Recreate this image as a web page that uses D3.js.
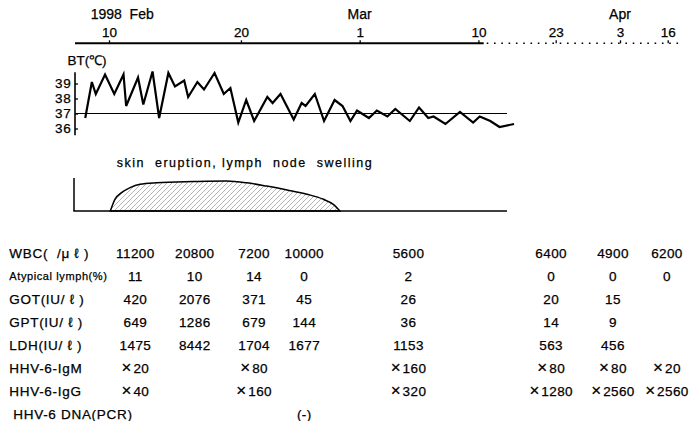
<!DOCTYPE html>
<html>
<head>
<meta charset="utf-8">
<script src="https://cdn.jsdelivr.net/npm/d3@7"></script>
<style>
  body { margin: 0; background: #fff; }
  svg { display: block; font-family: "Liberation Sans", Arial, sans-serif; }
  svg text { stroke: #000; stroke-width: 0.25px; }
</style>
</head>
<body>
<div id="grafico"></div>
<script>
// Days counted from Feb 0, 1998 (Feb 10 = 10, Mar 1 = 29, Mar 10 = 38, Apr 16 = 75)
const axisTickDays = [10, 20, 29, 38, 51, 62, 75];
const axisTickLabels = ['10', '20', '1', '10', '23', '3', '16'];
const monthLabels = ['1998  Feb', 'Mar', 'Apr'];
const monthDays = [11, 29, 62];

// body temperature (two readings a day)
const btDays = [8.2, 8.7, 9.0, 9.7, 10.4, 11.1, 11.3, 12.2, 12.6, 13.3, 13.8, 14.5, 15.0, 15.7, 16.0,
  16.7, 17.2, 18.0, 18.7, 19.2, 19.8, 20.4, 21.0, 22.0, 22.4, 23.0, 24.0, 24.6, 24.9, 25.6, 26.3,
  27.1, 27.7, 28.3, 28.8, 29.7, 30.3, 31.1, 31.7, 32.8, 33.5, 34.2, 34.6, 35.5, 36.6, 37.6, 38.1,
  38.9, 39.6, 40.7];
const btValues = [36.7, 39.1, 38.3, 39.6, 38.3, 39.6, 37.5, 39.4, 37.6, 39.8, 36.7, 39.7, 38.8, 39.2, 38.1,
  39.1, 38.6, 39.7, 38.3, 38.7, 36.4, 37.9, 36.5, 38.1, 37.7, 38.3, 36.6, 37.7, 37.5, 38.3, 36.5,
  37.9, 37.5, 36.5, 37.2, 36.7, 37.2, 36.8, 37.3, 36.5, 37.4, 36.7, 36.8, 36.3, 37.1, 36.4, 36.8,
  36.5, 36.1, 36.3];
const btTicks = [36, 37, 38, 39];
const btNormal = 37;

// skin eruption / lymph node swelling intensity (relative)
const eruptionDays = [10.1, 10.45, 10.95, 11.6, 12.35, 13.6, 16.4, 18.9, 20.45, 21.95, 23.5, 25.0, 26.25, 27.0, 27.5];
const eruptionLevel = [0, 0.39, 0.61, 0.78, 0.89, 0.94, 0.98, 1.0, 0.94, 0.83, 0.70, 0.56, 0.39, 0.22, 0];
const eruptionLabel = 'skin  eruption, lymph  node  swelling';
const eruptionLabelDay = 20.25;

// laboratory table
const labDays = [12, 16.5, 21, 24.8, 32.7, 49.8, 60.8, 74.8];
const labRows = ['WBC(  /μ ℓ )', 'Atypical lymph(%)', 'GOT(IU/ ℓ )', 'GPT(IU/ ℓ )', 'LDH(IU/ ℓ )',
  'HHV-6-IgM', 'HHV-6-IgG', 'HHV-6 DNA(PCR)'];
const wbc = [11200, 20800, 7200, 10000, 5600, 6400, 4900, 6200];
const atypical = [11, 10, 14, 0, 2, 0, 0, 0];
const got = [420, 2076, 371, 45, 26, 20, 15, null];
const gpt = [649, 1286, 679, 144, 36, 14, 9, null];
const ldh = [1475, 8442, 1704, 1677, 1153, 563, 456, null];
const igm = [20, null, 80, null, 160, 80, 80, 20];
const igg = [40, null, 160, null, 320, 1280, 2560, 2560];
const pcr = [null, null, null, '(-)', null, null, null, null];

function desenhar() {
  const largura = 692;
  const altura = 421;

  const svg = d3.select('#grafico').append('svg')
    .attr('width', largura).attr('height', altura);

  const defs = svg.append('defs');
  defs.append('pattern')
    .attr('id', 'hatch')
    .attr('patternUnits', 'userSpaceOnUse')
    .attr('width', 5).attr('height', 5)
    .append('path')
    .attr('d', 'M-1,1 l2,-2 M0,5 l5,-5 M4,6 l2,-2')
    .attr('stroke', '#666').attr('stroke-width', 0.5);

  // broken time scale: linear up to mid-March, compressed afterwards
  const x = d3.scaleLinear()
    .domain([10, 41, 51, 62, 75])
    .range([109, 518, 555.7, 620, 667.7]);

  // top date axis
  const axisY = 43.3;
  const eixo = svg.append('g').attr('transform', `translate(0,${axisY})`)
    .call(d3.axisTop(x).tickValues(axisTickDays)
      .tickFormat((d, i) => axisTickLabels[i]).tickSize(3).tickPadding(3));
  eixo.select('.domain').remove();
  eixo.selectAll('line').attr('stroke-width', 1.3);
  eixo.selectAll('text').attr('font-size', 13.5).attr('font-family', null).attr('fill', '#000');
  eixo.append('line').attr('x1', 75).attr('x2', x(38.4))
    .attr('stroke', '#000').attr('stroke-width', 2);
  eixo.append('line').attr('x1', x(38.4) + 3).attr('x2', 682)
    .attr('stroke', '#000').attr('stroke-width', 1.6)
    .attr('stroke-dasharray', '1.6,5.7');

  svg.append('g').selectAll('text').data(monthLabels).enter().append('text')
    .attr('x', (d, i) => x(monthDays[i]))
    .attr('y', 18.5)
    .attr('text-anchor', 'middle')
    .attr('font-size', 14)
    .style('white-space', 'pre')
    .text((d) => d);

  // body temperature
  const y = d3.scaleLinear().domain([36, 39]).range([128.5, 83.5]);
  const plotLeft = 75;
  const plotRight = 507;

  svg.append('text').attr('x', 87).attr('y', 65)
    .attr('text-anchor', 'middle').attr('font-size', 13.5).text('BT(℃)');

  const eixoY = svg.append('g').attr('transform', `translate(${plotLeft},0)`)
    .call(d3.axisLeft(y).tickValues(btTicks).tickSize(-3).tickPadding(3.5).tickFormat(d3.format('d')));
  eixoY.select('.domain').remove();
  eixoY.selectAll('line').attr('stroke-width', 1.3);
  eixoY.selectAll('text').attr('font-size', 13.5).attr('font-family', null)
    .attr('letter-spacing', 0.8).attr('fill', '#000');
  eixoY.append('line').attr('y1', y(39.75)).attr('y2', y(35.55))
    .attr('stroke', '#000').attr('stroke-width', 1.6);

  svg.append('line')
    .attr('x1', plotLeft).attr('x2', plotRight)
    .attr('y1', y(btNormal)).attr('y2', y(btNormal))
    .attr('stroke', '#000').attr('stroke-width', 1);

  const bt = btDays.map((d, i) => [d, btValues[i]]);
  svg.append('path')
    .datum(bt)
    .attr('fill', 'none')
    .attr('stroke', '#000')
    .attr('stroke-width', 2.2)
    .attr('stroke-linejoin', 'miter')
    .attr('d', d3.line().x((d) => x(d[0])).y((d) => y(d[1])));

  // eruption
  const yE = d3.scaleLinear().domain([0, 1]).range([211, 181]);
  svg.append('text')
    .attr('x', x(eruptionLabelDay)).attr('y', 166.7)
    .attr('text-anchor', 'middle')
    .attr('font-size', 12.5)
    .attr('textLength', 255).attr('lengthAdjust', 'spacing')
    .style('white-space', 'pre')
    .text(eruptionLabel);

  const er = eruptionDays.map((d, i) => [d, eruptionLevel[i]]);
  svg.append('path')
    .datum(er)
    .attr('fill', 'url(#hatch)')
    .attr('stroke', '#000')
    .attr('stroke-width', 1.5)
    .attr('d', d3.area().curve(d3.curveMonotoneX)
      .x((d) => x(d[0])).y0(yE(0)).y1((d) => yE(d[1])));

  svg.append('line')
    .attr('x1', 74).attr('x2', 74).attr('y1', 178).attr('y2', yE(0))
    .attr('stroke', '#000').attr('stroke-width', 1.5);
  svg.append('line')
    .attr('x1', 73.3).attr('x2', plotRight).attr('y1', yE(0)).attr('y2', yE(0))
    .attr('stroke', '#000').attr('stroke-width', 1.6);

  // lab table
  const linhas = d3.scalePoint().domain(labRows).range([253.3, 414]);
  const num = (v) => (v == null ? '' : String(v));
  const tabela = [
    wbc.map(num), atypical.map(num), got.map(num), gpt.map(num), ldh.map(num),
    igm, igg, pcr.map((v) => (v == null ? '' : v))
  ];

  const g = svg.append('g').attr('font-size', 13.5);
  g.selectAll('.rotulo').data(labRows).enter().append('text')
    .attr('class', 'rotulo')
    .attr('x', (d, i) => (i === 7 ? 13.3 : 9.3))
    .attr('y', (d) => linhas(d))
    .attr('dy', '0.36em')
    .attr('font-size', (d, i) => (i === 1 ? 11 : 13.5))
    .attr('letter-spacing', (d, i) => (i === 1 ? 0.6 : 0.7))
    .style('white-space', 'pre')
    .text((d) => d);

  tabela.forEach((valores, r) => {
    const titulo = r === 5 || r === 6;
    const t = g.selectAll(null).data(valores).enter().append('text')
      .attr('x', (d, i) => x(labDays[i]))
      .attr('y', linhas(labRows[r]))
      .attr('dy', '0.36em')
      .attr('text-anchor', 'middle')
      .attr('letter-spacing', 0.4);
    if (titulo) {
      t.filter((d) => d != null).each(function (d) {
        const el = d3.select(this);
        el.append('tspan').attr('font-size', 17).attr('dx', 0).attr('letter-spacing', 2).text('×');
        el.append('tspan').text(d);
      });
    } else {
      t.text((d) => d);
    }
  });
}

desenhar();
</script>
</body>
</html>
